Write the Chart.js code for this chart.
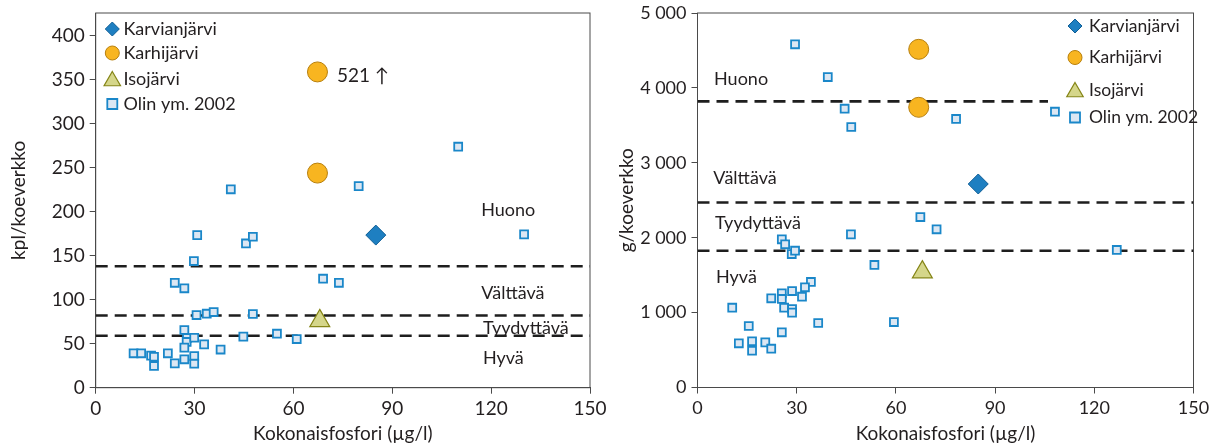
<!DOCTYPE html>
<html><head><meta charset="utf-8">
<script src="https://cdn.jsdelivr.net/npm/chart.js@4.4.1/dist/chart.umd.min.js"></script>
<style>
html,body{margin:0;padding:0;background:#fff;}
#wrap{position:relative;width:1218px;height:448px;overflow:hidden;background:#fff;}
canvas{position:absolute;top:0;}
</style></head><body>
<div id="wrap">
<canvas id="c1" width="620" height="448" style="left:0"></canvas>
<canvas id="c2" width="618" height="448" style="left:600px"></canvas>
</div>
<script>
// ---------- DATA ----------
const xTicks = [0, 30, 60, 90, 120, 150];
const leftYTicks = [0, 50, 100, 150, 200, 250, 300, 350, 400];
const rightYTicks = [0, 1000, 2000, 3000, 4000, 5000];

const seriesNames = ['Karvianjärvi', 'Karhijärvi', 'Isojärvi', 'Olin ym. 2002'];
const classNames = ['Huono', 'Välttävä', 'Tyydyttävä', 'Hyvä'];

// Left chart: kpl/koeverkko
const leftKarviaX = [85];
const leftKarviaY = [173.5];
const leftKarhiX = [67.3, 67.3];
const leftKarhiY = [359, 244];          // first point is off-scale (actual 521)
const leftKarhiOffscale = '521 ↑';
const leftIsoX = [68];
const leftIsoY = [76];
const leftOlinX = [41, 110, 79.8, 130, 73.8, 30.8, 45.6, 47.7, 29.8, 69, 24, 26.9, 30.6, 33.7, 35.8, 47.7, 26.9, 27.7, 27.6, 29.9, 26.9, 32.9, 37.9, 44.8, 55, 61, 11.5, 13.8, 16.8, 17.7, 17.7, 21.9, 24, 26.9, 29.9, 29.9];
const leftOlinY = [225.6, 274, 229.2, 174.3, 119.3, 173.5, 164, 171.6, 144, 123.9, 119.3, 113, 82.6, 84.1, 86, 83.8, 65.6, 56.5, 52, 56.8, 45.5, 49.3, 43.4, 58, 61.4, 55.3, 39.1, 39.1, 36.4, 35.2, 24.7, 39.1, 27.7, 32.3, 36, 27.3];
const leftLimits = [138, 82, 59];

// Right chart: g/koeverkko
const rightKarviaX = [84.9];
const rightKarviaY = [2717];
const rightKarhiX = [66.9, 66.9];
const rightKarhiY = [4515, 3741];
const rightIsoX = [68];
const rightIsoY = [1541];
const rightOlinX = [29.5, 39.4, 44.5, 46.5, 78.2, 108.1, 72.3, 126.8, 67.4, 46.4, 53.5, 59.4, 36.5, 25.5, 26.5, 28.5, 29.5, 34.3, 32.5, 31.6, 28.6, 25.5, 22.3, 25.5, 26.2, 28.6, 28.6, 10.5, 15.5, 25.5, 12.5, 16.5, 16.5, 20.5, 22.3];
const rightOlinY = [4582, 4145, 3722, 3478, 3585, 3682, 2112, 1836, 2276, 2045, 1636, 874, 861, 1979, 1912, 1782, 1826, 1409, 1338, 1212, 1288, 1258, 1191, 1182, 1065, 1048, 999, 1065, 821, 737, 590, 617, 491, 603, 518];
const rightLimits = [3820, 2470, 1825];

// ---------- STYLES ----------
const FONT = 'Lato, "Open Sans", sans-serif';
const TXT = '#231f20';
const AX = '#4a4a4a';
const styles = {
  karvia: {pointStyle: 'rectRot', backgroundColor: '#1e7fc1', borderColor: '#0f5e96', borderWidth: 1, pointRadius: 10},
  karhi:  {pointStyle: 'circle', backgroundColor: '#f8b520', borderColor: '#b77f0c', borderWidth: 1, pointRadius: 10},
  iso:    {pointStyle: 'triangle', backgroundColor: '#d5d68a', borderColor: '#858517', borderWidth: 1.2, pointRadius: 11.5},
  olin:   {pointStyle: 'rect', backgroundColor: '#dce7f3', borderColor: '#1a87c9', borderWidth: 1.8, pointRadius: 5.6}
};

function pts(xs, ys) { return xs.map((x, i) => ({x: x, y: ys[i]})); }
function ptDs(label, xs, ys, st) {
  return Object.assign({label: label, data: pts(xs, ys), order: 1, pointHoverRadius: st.pointRadius,
    pointBackgroundColor: st.backgroundColor, pointBorderColor: st.borderColor, pointBorderWidth: st.borderWidth}, st);
}
function limitDs(y, xEnd) {
  return {type: 'line', label: '', data: [{x: 0, y: y}, {x: xEnd, y: y}], borderColor: '#1e1e1e',
    borderWidth: 2.6, borderDash: [12, 7], pointRadius: 0, fill: false, order: 5, showLine: true};
}

// marker drawer for legend
function drawMarker(ctx, st, x, y, r) {
  ctx.save();
  ctx.fillStyle = st.backgroundColor; ctx.strokeStyle = st.borderColor; ctx.lineWidth = st.borderWidth;
  ctx.beginPath();
  if (st.pointStyle === 'circle') ctx.arc(x, y, r, 0, Math.PI * 2);
  else if (st.pointStyle === 'rectRot') { ctx.moveTo(x - r, y); ctx.lineTo(x, y - r); ctx.lineTo(x + r, y); ctx.lineTo(x, y + r); ctx.closePath(); }
  else if (st.pointStyle === 'triangle') { ctx.moveTo(x, y - r); ctx.lineTo(x + r * 0.866, y + r * 0.5); ctx.lineTo(x - r * 0.866, y + r * 0.5); ctx.closePath(); }
  else { ctx.rect(x - r, y - r, 2 * r, 2 * r); }
  ctx.fill(); ctx.stroke();
  ctx.restore();
}

const framePlugin = {
  id: 'frame',
  beforeDatasetsDraw(chart) {
    const a = chart.chartArea, ctx = chart.ctx;
    ctx.save(); ctx.strokeStyle = AX; ctx.lineWidth = 1;
    ctx.strokeRect(a.left, a.top, a.right - a.left, a.bottom - a.top);
    ctx.restore();
  }
};
const notesPlugin = {
  id: 'notes',
  afterDatasetsDraw(chart, args, opts) {
    const ctx = chart.ctx, xs = chart.scales.x, ys = chart.scales.y;
    ctx.save(); ctx.fillStyle = TXT; ctx.textBaseline = 'middle'; ctx.textAlign = 'left';
    (opts.items || []).forEach(n => {
      ctx.font = (n.size || 18) + 'px ' + FONT;
      ctx.fillText(n.text, xs.getPixelForValue(n.x), ys.getPixelForValue(n.y));
    });
    ctx.restore();
  }
};
const legendPlugin = {
  id: 'customLegend',
  afterDatasetsDraw(chart, args, opts) {
    if (!opts.rows) return;
    const ctx = chart.ctx;
    const sts = [styles.karvia, styles.karhi, styles.iso, styles.olin];
    const rad = [7, 7, 9.5, 5];
    ctx.save();
    opts.rows.forEach((y, i) => {
      drawMarker(ctx, sts[i], opts.mx, y + (i === 2 ? 2 : 0), rad[i]);
      ctx.fillStyle = TXT; ctx.font = opts.size + 'px ' + FONT;
      ctx.textBaseline = 'middle'; ctx.textAlign = 'left';
      ctx.fillText(seriesNames[i], opts.tx, y);
    });
    ctx.restore();
  }
};

function fmtThousands(v) { return String(v).replace(/\B(?=(\d{3})+(?!\d))/g, ' '); }

function makeChart(id, cfg) {
  const tickFont = {family: FONT, size: cfg.tickSize};
  return new Chart(document.getElementById(id), {
    type: 'scatter',
    data: {datasets: cfg.datasets},
    plugins: [framePlugin, notesPlugin, legendPlugin],
    options: {
      responsive: false, animation: false, events: [],
      layout: {padding: {left: 0, top: cfg.top, right: cfg.padRight, bottom: 0}},
      plugins: {legend: {display: false}, tooltip: {enabled: false},
        notes: {items: cfg.notes}, customLegend: cfg.legend},
      scales: {
        x: {
          type: 'linear', min: 0, max: 150,
          afterBuildTicks: s => { s.ticks = xTicks.map(v => ({value: v})); },
          afterFit: s => { s.height = cfg.xAxisH; s.paddingLeft = 0; s.paddingRight = 0; },
          ticks: {font: tickFont, color: TXT, padding: 4, maxRotation: 0, autoSkip: false},
          grid: {drawOnChartArea: false, drawTicks: true, tickLength: 6, color: AX},
          border: {display: true, color: AX},
          title: {display: true, text: 'Kokonaisfosfori (µg/l)', color: TXT, font: {family: FONT, size: 19}, padding: {top: 0, bottom: 3}}
        },
        y: {
          type: 'linear', min: 0, max: cfg.yMax,
          afterBuildTicks: s => { s.ticks = cfg.yTicks.map(v => ({value: v})); },
          afterFit: s => { s.width = cfg.yAxisW; s.paddingTop = 0; s.paddingBottom = 0; },
          ticks: {font: tickFont, color: TXT, padding: 5, autoSkip: false, callback: v => fmtThousands(v)},
          grid: {drawOnChartArea: false, drawTicks: true, tickLength: 6, color: AX},
          border: {display: true, color: AX},
          title: {display: true, text: cfg.yTitle, color: TXT, font: {family: FONT, size: 19}, padding: {top: cfg.yTitlePad, bottom: 0}}
        }
      }
    }
  });
}

makeChart('c1', {
  top: 13, padRight: 30, xAxisH: 60.3, yAxisW: 95.7, yMax: 426, yTicks: leftYTicks, tickSize: 19,
  yTitle: 'kpl/koeverkko', yTitlePad: 7,
  datasets: [
    limitDs(leftLimits[0], 150), limitDs(leftLimits[1], 150), limitDs(leftLimits[2], 150),
    ptDs(seriesNames[3], leftOlinX, leftOlinY, styles.olin),
    ptDs(seriesNames[2], leftIsoX, leftIsoY, styles.iso),
    ptDs(seriesNames[1], leftKarhiX, leftKarhiY, styles.karhi),
    ptDs(seriesNames[0], leftKarviaX, leftKarviaY, styles.karvia)
  ],
  notes: [
    {text: leftKarhiOffscale, x: 73.2, y: 355, size: 19},
    {text: classNames[0], x: 117, y: 202},
    {text: classNames[1], x: 117, y: 108},
    {text: classNames[2], x: 117.5, y: 68},
    {text: classNames[3], x: 117.5, y: 34}
  ],
  legend: {rows: [29, 53, 79, 104], mx: 112.3, tx: 123.5, size: 18}
});

makeChart('c2', {
  top: 13, padRight: 24.5, xAxisH: 60.5, yAxisW: 97.5, yMax: 5000, yTicks: rightYTicks, tickSize: 18,
  yTitle: 'g/koeverkko', yTitlePad: 15,
  datasets: [
    limitDs(rightLimits[0], 106), limitDs(rightLimits[1], 150), limitDs(rightLimits[2], 150),
    ptDs(seriesNames[3], rightOlinX, rightOlinY, styles.olin),
    ptDs(seriesNames[2], rightIsoX, rightIsoY, styles.iso),
    ptDs(seriesNames[1], rightKarhiX, rightKarhiY, styles.karhi),
    ptDs(seriesNames[0], rightKarviaX, rightKarviaY, styles.karvia)
  ],
  notes: [
    {text: classNames[0], x: 5.0, y: 4119},
    {text: classNames[1], x: 4.8, y: 2797},
    {text: classNames[2], x: 5.3, y: 2196},
    {text: classNames[3], x: 5.6, y: 1475}
  ],
  legend: {rows: [26, 57.5, 90, 117.5], mx: 475, tx: 489, size: 17.5}
});
</script>
</body></html>
